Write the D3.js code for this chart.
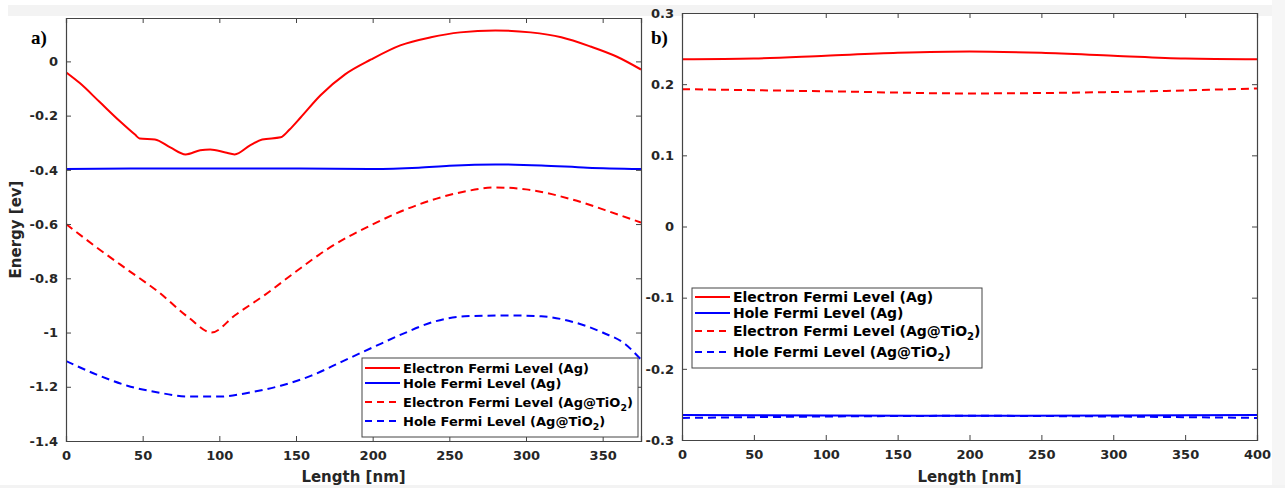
<!DOCTYPE html>
<html>
<head>
<meta charset="utf-8">
<script src="https://cdn.jsdelivr.net/npm/d3@7/dist/d3.min.js"></script>
<style>
  html, body { margin: 0; padding: 0; background: #ffffff; }
  svg { display: block; }
</style>
</head>
<body>
<svg id="chart" width="1285" height="488"></svg>
<script>
// ---------- Panel a data ----------
const aElecAgX = [0, 9, 22, 35, 45, 48, 58, 68, 78, 87.5, 94, 104, 110, 120, 128, 140, 146, 153, 166, 182, 199, 218, 238, 257, 280, 303, 323, 342, 359, 375];
const aElecAgY = [-0.04, -0.08, -0.15, -0.22, -0.27, -0.284, -0.288, -0.317, -0.343, -0.328, -0.325, -0.336, -0.343, -0.31, -0.288, -0.28, -0.25, -0.207, -0.125, -0.048, 0.007, 0.059, 0.089, 0.107, 0.114, 0.107, 0.089, 0.055, 0.018, -0.03];

const aHoleAgX = [0, 50, 100, 150, 200, 230, 250, 280, 310, 340, 375];
const aHoleAgY = [-0.397, -0.395, -0.395, -0.395, -0.397, -0.392, -0.385, -0.38, -0.384, -0.392, -0.397];

const aElecTiX = [0, 20, 40, 60, 80, 95, 110, 130, 150, 170, 200, 230, 260, 280, 300, 330, 360, 375];
const aElecTiY = [-0.60, -0.686, -0.768, -0.849, -0.945, -1.0, -0.937, -0.86, -0.775, -0.694, -0.601, -0.528, -0.48, -0.465, -0.472, -0.509, -0.565, -0.594];

const aHoleTiX = [0, 20, 40, 60, 80, 100, 120, 140, 160, 180, 200, 220, 240, 260, 290, 310, 330, 350, 365, 375];
const aHoleTiY = [-1.105, -1.155, -1.196, -1.221, -1.236, -1.236, -1.221, -1.196, -1.159, -1.107, -1.055, -1.004, -0.96, -0.94, -0.937, -0.94, -0.96, -1.0, -1.044, -1.10];

// ---------- Panel b data ----------
const bElecAgX = [0, 50, 100, 150, 200, 250, 300, 350, 400];
const bElecAgY = [0.235, 0.236, 0.240, 0.244, 0.246, 0.244, 0.240, 0.236, 0.235];

const bHoleAgX = [0, 100, 200, 300, 400];
const bHoleAgY = [-0.265, -0.2655, -0.266, -0.2655, -0.265];

const bElecTiX = [0, 100, 200, 300, 400];
const bElecTiY = [0.193, 0.190, 0.187, 0.189, 0.194];

const bHoleTiX = [0, 100, 200, 300, 400];
const bHoleTiY = [-0.269, -0.267, -0.266, -0.267, -0.269];

// ---------- Ticks / labels ----------
const aXTicks = [0, 50, 100, 150, 200, 250, 300, 350];
const aYTicks = [0, -0.2, -0.4, -0.6, -0.8, -1, -1.2, -1.4];
const bXTicks = [0, 50, 100, 150, 200, 250, 300, 350, 400];
const bYTicks = [0.3, 0.2, 0.1, 0, -0.1, -0.2, -0.3];

const seriesNames = ["Electron Fermi Level (Ag)", "Hole Fermi Level (Ag)", "Electron Fermi Level (Ag@TiO", "Hole Fermi Level (Ag@TiO"];
const seriesColors = ["#ff0000", "#0000ff", "#ff0000", "#0000ff"];
const seriesDashed = [false, false, true, true];
const seriesSub = [false, false, true, true];

const xLabel = "Length [nm]";
const yLabel = "Energy [ev]";

const svg = d3.select("#chart");
const FONT = "'DejaVu Sans', Verdana, sans-serif";
const AXIS = "#444444";

// background bands of the screenshot
svg.append("rect").attr("x", 0).attr("y", 0).attr("width", 1285).attr("height", 488).attr("fill", "#ffffff");
svg.append("rect").attr("x", 8).attr("y", 5).attr("width", 1264).attr("height", 11).attr("fill", "#f3f3f3");
svg.append("rect").attr("x", 1272).attr("y", 0).attr("width", 13).attr("height", 488).attr("fill", "#f6f6f6");
svg.append("rect").attr("x", 0).attr("y", 485).attr("width", 1285).attr("height", 3).attr("fill", "#f3f3f3");

function drawPanel(cfg) {
  const g = svg.append("g");
  const x = d3.scaleLinear().domain(cfg.xDomain).range([cfg.left, cfg.right]);
  const y = d3.scaleLinear().domain(cfg.yDomain).range([cfg.bottom, cfg.top]);

  // plot background
  g.append("rect").attr("x", cfg.left).attr("y", cfg.top)
    .attr("width", cfg.right - cfg.left).attr("height", cfg.bottom - cfg.top)
    .attr("fill", "#ffffff");

  // series
  const line = d3.line().x(d => x(d[0])).y(d => y(d[1])).curve(d3.curveMonotoneX);
  const clipId = "clip" + cfg.name;
  g.append("clipPath").attr("id", clipId).append("rect")
    .attr("x", cfg.left).attr("y", cfg.top - 2)
    .attr("width", cfg.right - cfg.left).attr("height", cfg.bottom - cfg.top + 4);
  const lines = g.append("g").attr("clip-path", `url(#${clipId})`);
  cfg.series.forEach((s, i) => {
    const pts = s.xs.map((v, k) => [v, s.ys[k]]);
    lines.append("path").datum(pts)
      .attr("d", line)
      .attr("fill", "none")
      .attr("stroke", seriesColors[i])
      .attr("stroke-width", 2)
      .attr("stroke-dasharray", seriesDashed[i] ? "8,5" : null);
  });

  // axes (inward ticks, boxed)
  const tickSize = 5;
  const bottomAx = d3.axisBottom(x).tickValues(cfg.xTicks).tickSize(-tickSize).tickPadding(10).tickFormat(d3.format("d"));
  const topAx = d3.axisTop(x).tickValues(cfg.xTicks).tickSize(-tickSize).tickFormat("");
  const leftAx = d3.axisLeft(y).tickValues(cfg.yTicks).tickSize(-tickSize).tickPadding(8).tickFormat(d => d3.format("")(+d.toFixed(2)).replace("\u2212", "-"));
  const rightAx = d3.axisRight(y).tickValues(cfg.yTicks).tickSize(-tickSize).tickFormat("");

  const axes = [
    g.append("g").attr("transform", `translate(0,${cfg.bottom})`).call(bottomAx),
    g.append("g").attr("transform", `translate(0,${cfg.top})`).call(topAx),
    g.append("g").attr("transform", `translate(${cfg.left},0)`).call(leftAx),
    g.append("g").attr("transform", `translate(${cfg.right},0)`).call(rightAx)
  ];
  axes.forEach(a => {
    a.select(".domain").attr("stroke", AXIS).attr("stroke-width", 1.2);
    a.selectAll(".tick line").attr("stroke", AXIS).attr("stroke-width", 1);
    a.selectAll(".tick text").attr("fill", "#262626")
      .style("font-family", FONT).style("font-weight", "bold").style("font-size", cfg.tickFont + "px");
  });

  // x label
  g.append("text").attr("x", (cfg.left + cfg.right) / 2).attr("y", 482)
    .attr("text-anchor", "middle").attr("fill", "#262626")
    .style("font-family", FONT).style("font-weight", "bold").style("font-size", "15px")
    .text(xLabel);

  // y label (panel a only)
  if (cfg.showYLabel) {
    g.append("text").attr("transform", `translate(21,${(cfg.top + cfg.bottom) / 2}) rotate(-90)`)
      .attr("text-anchor", "middle").attr("fill", "#262626")
      .style("font-family", FONT).style("font-weight", "bold").style("font-size", "15px")
      .text(yLabel);
  }

  // panel letter
  g.append("text").attr("x", cfg.letterX).attr("y", cfg.letterY)
    .attr("fill", "#000000")
    .style("font-family", "'Liberation Serif', 'Times New Roman', serif")
    .style("font-weight", "bold").style("font-size", "19px")
    .text(cfg.letter);

  // legend
  const L = cfg.legend;
  const lg = g.append("g");
  lg.append("rect").attr("x", L.x).attr("y", L.y).attr("width", L.w).attr("height", L.h)
    .attr("fill", "#ffffff").attr("stroke", AXIS).attr("stroke-width", 1);
  L.rows.forEach((ry, i) => {
    const cy = L.y + ry;
    lg.append("line").attr("x1", L.x + 3).attr("x2", L.x + 38).attr("y1", cy).attr("y2", cy)
      .attr("stroke", seriesColors[i]).attr("stroke-width", 2)
      .attr("stroke-dasharray", seriesDashed[i] ? "7,5" : null);
    const t = lg.append("text").attr("x", L.x + 41).attr("y", cy + L.font * 0.36)
      .attr("fill", "#000000")
      .style("font-family", FONT).style("font-weight", "bold").style("font-size", L.font + "px");
    t.append("tspan").text(seriesNames[i]);
    if (seriesSub[i]) {
      t.append("tspan").attr("dy", 4).style("font-size", (L.font * 0.72) + "px").text("2");
      t.append("tspan").attr("dy", -4).text(")");
    }
  });
}

drawPanel({
  name: "a", letter: "a)", letterX: 31, letterY: 44,
  left: 66, right: 641, top: 18, bottom: 441,
  xDomain: [0, 375], yDomain: [-1.4, 0.16],
  xTicks: aXTicks, yTicks: aYTicks, tickFont: 13, showYLabel: true,
  series: [
    { xs: aElecAgX, ys: aElecAgY },
    { xs: aHoleAgX, ys: aHoleAgY },
    { xs: aElecTiX, ys: aElecTiY },
    { xs: aHoleTiX, ys: aHoleTiY }
  ],
  legend: { x: 362, y: 358, w: 276, h: 79, font: 13, rows: [10, 25, 44, 63] }
});

drawPanel({
  name: "b", letter: "b)", letterX: 651, letterY: 44,
  left: 682, right: 1257, top: 13, bottom: 440,
  xDomain: [0, 400], yDomain: [-0.3, 0.3],
  xTicks: bXTicks, yTicks: bYTicks, tickFont: 13, showYLabel: false,
  series: [
    { xs: bElecAgX, ys: bElecAgY },
    { xs: bHoleAgX, ys: bHoleAgY },
    { xs: bElecTiX, ys: bElecTiY },
    { xs: bHoleTiX, ys: bHoleTiY }
  ],
  legend: { x: 692, y: 288, w: 290, h: 80, font: 14, rows: [9, 25, 43, 64] }
});
</script>
</body>
</html>
